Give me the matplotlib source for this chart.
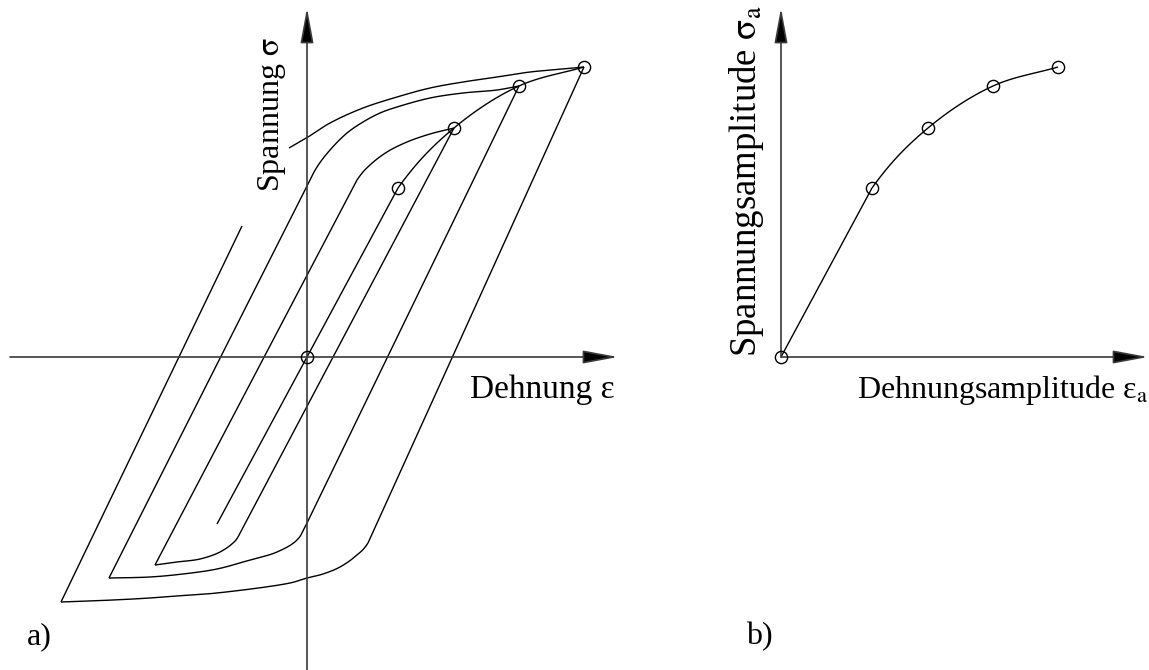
import numpy as np
import matplotlib
matplotlib.use('Agg')
from matplotlib import pyplot as plt

plt.rcParams['font.family'] = ['Liberation Serif', 'DejaVu Serif']
plt.rcParams['mathtext.fontset'] = 'stix'

# stabilised loop tips = points of the cyclic stress-strain curve (schematic units)
eps_a = [91, 147, 212, 277]
sig_a = [169, 229, 271, 290]

# first amplitude stays elastic: unloading runs back through the origin
elastic_end_x = -90
elastic_end_y = -167

# loop 2: unloading bend (starts where the straight unloading ends)
# and reloading branch (corner, end of straight part, bend up to the tip)
loop2_down_x = [-69, -74, -87, -107, -130, -152]
loop2_down_y = [-180, -186, -195, -202, -205, -208]
loop2_up_x = [-152, 50, 63, 80, 100, 123]
loop2_up_y = [-208, 177, 192, 205, 215, 223]

# loop 3
loop3_down_x = [0, -10, -30, -57, -90, -124, -157, -198]
loop3_down_y = [-166, -183, -195, -203, -212, -217, -220, -221]
loop3_up_x = [-198, -2, 10, 23, 40, 56, 73, 90, 123, 156, 190]
loop3_up_y = [-221, 167, 190, 207, 224, 235, 244, 250, 259, 264, 267]

# loop 4 (reloading branch is interrupted under the axis label)
loop4_down_x = [61, 50, 33, 16, 0, -17, -90, -117, -157, -194, -246]
loop4_down_y = [-186, -198, -210, -217, -221, -226, -236, -238, -241, -243, -245]
loop4_up1_x = [-246, -65]
loop4_up1_y = [-245, 131]
loop4_up2_x = [-18, 1, 23, 56, 90, 123, 156, 190, 223, 256]
loop4_up2_y = [209, 220, 234, 249, 260, 269, 275, 280, 285, 288]


def smooth(xs, ys, prev=None, n=24):
    # centripetal Catmull-Rom through the given points
    P = np.column_stack([xs, ys]).astype(float)
    first = np.array(prev, float) if prev is not None else 2 * P[0] - P[1]
    last = 2 * P[-1] - P[-2]
    P = np.vstack([first, P, last])
    out = []
    for i in range(1, len(P) - 2):
        p0, p1, p2, p3 = P[i - 1], P[i], P[i + 1], P[i + 2]
        t0 = 0.0
        t1 = t0 + np.linalg.norm(p1 - p0) ** 0.5
        t2 = t1 + np.linalg.norm(p2 - p1) ** 0.5
        t3 = t2 + np.linalg.norm(p3 - p2) ** 0.5
        t = np.linspace(t1, t2, n)[:, None]
        a1 = (t1 - t) / (t1 - t0) * p0 + (t - t0) / (t1 - t0) * p1
        a2 = (t2 - t) / (t2 - t1) * p1 + (t - t1) / (t2 - t1) * p2
        a3 = (t3 - t) / (t3 - t2) * p2 + (t - t2) / (t3 - t2) * p3
        b1 = (t2 - t) / (t2 - t0) * a1 + (t - t0) / (t2 - t0) * a2
        b2 = (t3 - t) / (t3 - t1) * a2 + (t - t1) / (t3 - t1) * a3
        c = (t2 - t) / (t2 - t1) * b1 + (t - t1) / (t2 - t1) * b2
        out.append(c if i == 1 else c[1:])
    c = np.vstack(out)
    return c[:, 0], c[:, 1]


W, H = 1149, 670
fig = plt.figure(figsize=(W / 100, H / 100), dpi=100)
fig.patch.set_facecolor('white')

# both panels use 1 unit = 1 pixel, origin placed where the axes cross
ax1 = fig.add_axes([0, 0, 640 / W, 1])
ax1.set_xlim(-307, 333)
ax1.set_ylim(-313, 357)
ax2 = fig.add_axes([640 / W, 0, 509 / W, 1])
ax2.set_xlim(-141, 368)
ax2.set_ylim(-313, 357)
for ax in (ax1, ax2):
    ax.axis('off')

lw = 1.0
axis_col = '#3a3a3a'
mk = dict(marker='o', ms=8.8, mfc='none', mec='black', mew=1.0, ls='none', zorder=5)


def line(ax, x, y):
    ax.plot(x, y, color='black', lw=lw, solid_capstyle='butt')


def arrow(ax, x0, y0, x1, y1):
    ax.annotate('', xy=(x1, y1), xytext=(x0, y0),
                arrowprops=dict(arrowstyle='-|>,head_length=1.5,head_width=0.28',
                                mutation_scale=14.4, lw=1.2, color=axis_col,
                                fc='black', shrinkA=0, shrinkB=0),
                annotation_clip=False)


def cyclic_curve(ax):
    # straight elastic part up to the first tip, then the bent part
    line(ax, [0, eps_a[0]], [0, sig_a[0]])
    line(ax, *smooth(eps_a, sig_a, prev=(0, 0)))
    ax.plot([0] + eps_a, [0] + sig_a, **mk)


# --- a) hysteresis loops
arrow(ax1, -297, 0, 311, 0)
arrow(ax1, 0, -313, 0, 349)

# elastic unloading of the first amplitude continues the loading line
line(ax1, [elastic_end_x, 0], [elastic_end_y, 0])

loops = [
    (eps_a[1], sig_a[1], loop2_down_x, loop2_down_y, loop2_up_x, loop2_up_y),
    (eps_a[2], sig_a[2], loop3_down_x, loop3_down_y, loop3_up_x, loop3_up_y),
]
for tx, ty, dx, dy, ux, uy in loops:
    line(ax1, [tx, dx[0]], [ty, dy[0]])
    line(ax1, *smooth(dx, dy, prev=(tx, ty)))
    line(ax1, ux[:2], uy[:2])
    line(ax1, *smooth(ux[1:] + [tx], uy[1:] + [ty], prev=(ux[0], uy[0])))

tx, ty = eps_a[3], sig_a[3]
line(ax1, [tx, loop4_down_x[0]], [ty, loop4_down_y[0]])
line(ax1, *smooth(loop4_down_x, loop4_down_y, prev=(tx, ty)))
line(ax1, loop4_up1_x, loop4_up1_y)
line(ax1, *smooth(loop4_up2_x + [tx], loop4_up2_y + [ty]))

cyclic_curve(ax1)

ax1.text(-35, 242, r'Spannung $\mathrm{\sigma}$', rotation=90, ha='center', va='center',
         fontsize=23)
ax1.text(308, -33, 'Dehnung ε', ha='right', va='center', fontsize=24)
ax1.text(-268, -280, 'a)', ha='center', va='center', fontsize=23)

# --- b) cyclic stress-strain curve
arrow(ax2, 0, 0, 367, 0)
arrow(ax2, 0, 0, 0, 349)
cyclic_curve(ax2)

ax2.text(-34, 176, r'Spannungsamplitude $\mathrm{\sigma_a}$', rotation=90,
         ha='center', va='center', fontsize=26.5)
ax2.text(222, -33, r'Dehnungsamplitude ε$_\mathrm{a}$', ha='center', va='center', fontsize=23)
ax2.text(-22, -280, 'b)', ha='center', va='center', fontsize=23)

fig.savefig('out.png', dpi=100, facecolor='white')
